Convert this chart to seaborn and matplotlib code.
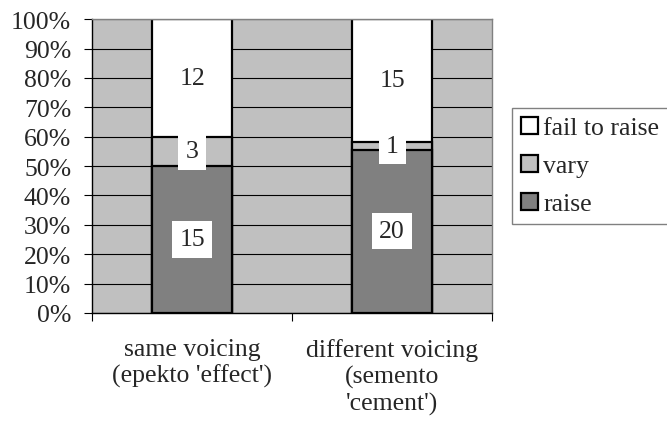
import numpy as np
import pandas as pd
import matplotlib
matplotlib.use('Agg')
import matplotlib.pyplot as plt
import seaborn as sns
from matplotlib.patches import Patch
from matplotlib.ticker import FixedLocator, PercentFormatter

# Data (counts per category)
categories = ["same voicing\n(epekto 'effect')", "different voicing\n(semento\n'cement')"]
raise_counts = [15, 20]
vary_counts = [3, 1]
fail_counts = [12, 15]
series_names = ['raise', 'vary', 'fail to raise']
series_colors = ['#808080', '#C0C0C0', '#FFFFFF']

FS = 18.5

sns.set_style('ticks')
plt.rcParams['font.family'] = ['Liberation Serif', 'DejaVu Serif']
plt.rcParams['font.size'] = FS

df = pd.DataFrame({'category': categories, 'raise': raise_counts,
                   'vary': vary_counts, 'fail to raise': fail_counts})
totals = df[series_names].sum(axis=1)
pct = df[series_names].div(totals, axis=0) * 100
cum = pct.cumsum(axis=1)

fig = plt.figure(figsize=(6.67, 4.39), dpi=100)
ax = fig.add_axes([0.138, 0.285, 0.6, 0.669])
ax.set_facecolor('#C0C0C0')

# draw the stack from the top layer down so lower layers overlay
for name, color in zip(series_names[::-1], series_colors[::-1]):
    sns.barplot(x=df['category'], y=cum[name], color=color, saturation=1,
                width=0.4, edgecolor='black', linewidth=1.6, errorbar=None,
                ax=ax, zorder=2)

# count labels in white boxes at the segment centres
for i in range(len(df)):
    bottom = 0
    for name in series_names:
        h = pct.loc[i, name]
        ax.text(i, bottom + h / 2, str(df.loc[i, name]), ha='center', va='center',
                fontsize=FS, zorder=4,
                bbox=dict(boxstyle='square,pad=0.28', facecolor='white', edgecolor='none'))
        bottom += h

ax.set_xlim(-0.5, len(df) - 0.5)
ax.set_ylim(0, 100)
ax.set_yticks(np.arange(0, 101, 10))
ax.yaxis.set_major_formatter(PercentFormatter(decimals=0))
ax.yaxis.grid(True, color='black', linewidth=0.8)
ax.set_axisbelow(True)

ax.set_xlabel('')
ax.set_ylabel('')
ax.tick_params(axis='x', which='major', length=0, pad=18)
ax.xaxis.set_minor_locator(FixedLocator(np.arange(-0.5, len(df), 1.0)))
ax.tick_params(axis='x', which='minor', length=6, width=0.8, color='black')
ax.tick_params(axis='y', length=6, width=0.8, pad=9, color='black')
for lbl in ax.get_xticklabels():
    lbl.set_multialignment('center')
    lbl.set_verticalalignment('top')
    lbl.set_linespacing(1.22)

for side in ['top', 'right']:
    ax.spines[side].set_color('#808080')
    ax.spines[side].set_linewidth(1.0)
for side in ['left', 'bottom']:
    ax.spines[side].set_color('black')
    ax.spines[side].set_linewidth(1.0)

handles = [Patch(facecolor=c, edgecolor='black', linewidth=1.6, label=n)
           for n, c in zip(series_names[::-1], series_colors[::-1])]
fig.legend(handles=handles, loc='center left', bbox_to_anchor=(0.768, 0.62),
           borderaxespad=0, frameon=True, fancybox=False, edgecolor='#808080',
           framealpha=1, handlelength=0.65, handleheight=0.65, handletextpad=0.2,
           labelspacing=0.6, borderpad=0.35, fontsize=FS)

fig.savefig('out.png', dpi=100)
